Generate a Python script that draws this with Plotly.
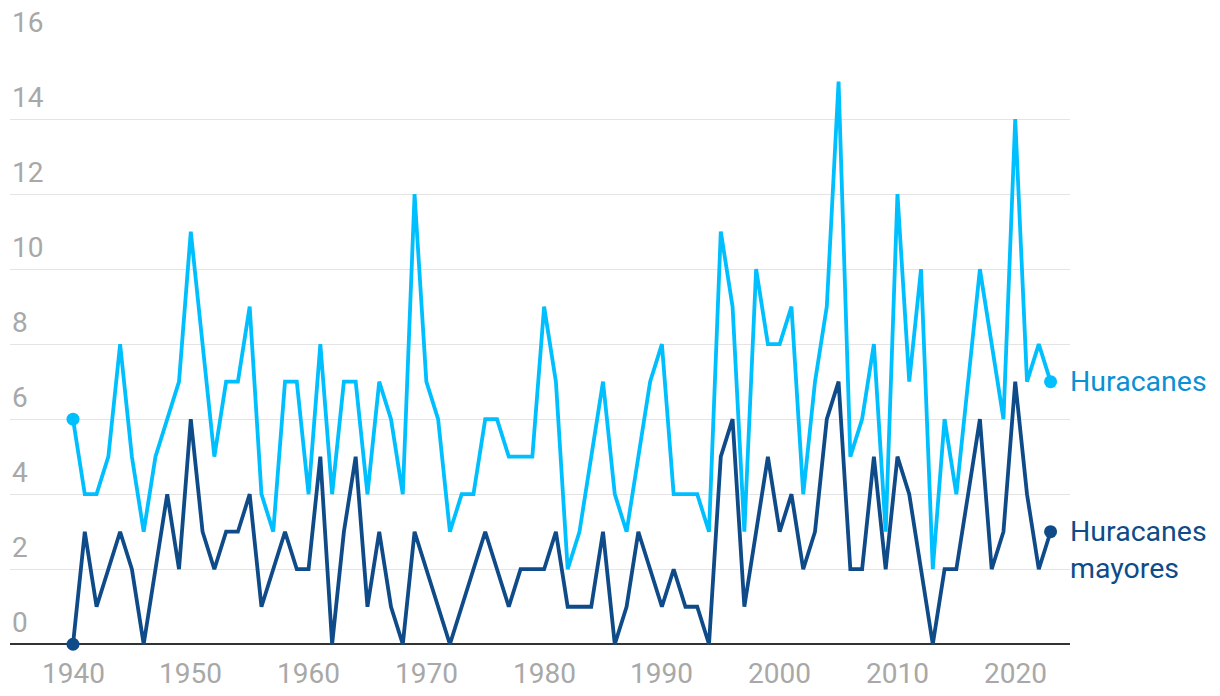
import plotly.graph_objects as go

years = list(range(1940, 2024))
huracanes = [6, 4, 4, 5, 8, 5, 3, 5, 6, 7,
             11, 8, 5, 7, 7, 9, 4, 3, 7, 7,
             4, 8, 4, 7, 7, 4, 7, 6, 4, 12,
             7, 6, 3, 4, 4, 6, 6, 5, 5, 5,
             9, 7, 2, 3, 5, 7, 4, 3, 5, 7,
             8, 4, 4, 4, 3, 11, 9, 3, 10, 8,
             8, 9, 4, 7, 9, 15, 5, 6, 8, 3,
             12, 7, 10, 2, 6, 4, 7, 10, 8, 6,
             14, 7, 8, 7]
mayores = [0, 3, 1, 2, 3, 2, 0, 2, 4, 2,
           6, 3, 2, 3, 3, 4, 1, 2, 3, 2,
           2, 5, 0, 3, 5, 1, 3, 1, 0, 3,
           2, 1, 0, 1, 2, 3, 2, 1, 2, 2,
           2, 3, 1, 1, 1, 3, 0, 1, 3, 2,
           1, 2, 1, 1, 0, 5, 6, 1, 3, 5,
           3, 4, 2, 3, 6, 7, 2, 2, 5, 2,
           5, 4, 2, 0, 2, 2, 4, 6, 2, 3,
           7, 4, 2, 3]
y_ticks = [0, 2, 4, 6, 8, 10, 12, 14, 16]
x_ticks = [1940, 1950, 1960, 1970, 1980, 1990, 2000, 2010, 2020]
series_names = ["Huracanes", "Huracanes<br>mayores"]

LIGHT = "#00bfff"
LIGHT_TXT = "#0a90d3"
DARK = "#0f4b88"
GRAY = "#a8a8a8"
FONT = "Roboto, 'Liberation Sans', sans-serif"

fig = go.Figure()
for vals, col in [(huracanes, LIGHT), (mayores, DARK)]:
    fig.add_trace(go.Scatter(x=years, y=vals, mode="lines",
                             line=dict(color=col, width=3.8),
                             hoverinfo="skip", showlegend=False))
    fig.add_trace(go.Scatter(x=[years[0], years[-1]], y=[vals[0], vals[-1]],
                             mode="markers", marker=dict(color=col, size=13),
                             cliponaxis=False, hoverinfo="skip", showlegend=False))

annotations = []
for v in y_ticks:
    annotations.append(dict(x=0, xref="paper", y=v, yref="y", xanchor="left",
                            yanchor="middle", yshift=22, text=str(v), showarrow=False,
                            font=dict(family=FONT, size=28, color=GRAY)))
for yr in x_ticks:
    annotations.append(dict(x=yr, xref="x", y=0, yref="y", xanchor="center",
                            yanchor="middle", yshift=-29, text=str(yr), showarrow=False,
                            font=dict(family=FONT, size=28, color=GRAY)))

annotations.append(dict(x=years[-1], xref="x", y=huracanes[-1], yref="y",
                        xanchor="left", yanchor="middle", xshift=17, text=series_names[0],
                        showarrow=False, align="left",
                        font=dict(family=FONT, size=28.5, color=LIGHT_TXT)))
annotations.append(dict(x=years[-1], xref="x", y=mayores[-1], yref="y",
                        xanchor="left", yanchor="top", xshift=17, yshift=19,
                        text=series_names[1], showarrow=False, align="left",
                        font=dict(family=FONT, size=28.5, color=DARK)))

fig.update_layout(
    width=1220, height=696,
    margin=dict(l=10, r=150, t=44, b=33),
    paper_bgcolor="white", plot_bgcolor="white",
    xaxis=dict(range=[1934.65, 2024.65], showgrid=False, zeroline=False,
               showticklabels=False, ticks="", showline=False, fixedrange=True),
    yaxis=dict(range=[-0.5, 16], tickvals=y_ticks, showticklabels=False,
               showgrid=True, gridcolor="#e4e4e4", gridwidth=1.2,
               zeroline=True, zerolinecolor="#333333", zerolinewidth=2.2,
               ticks="", showline=False, fixedrange=True),
    annotations=annotations,
)

fig.write_html("out.html")
